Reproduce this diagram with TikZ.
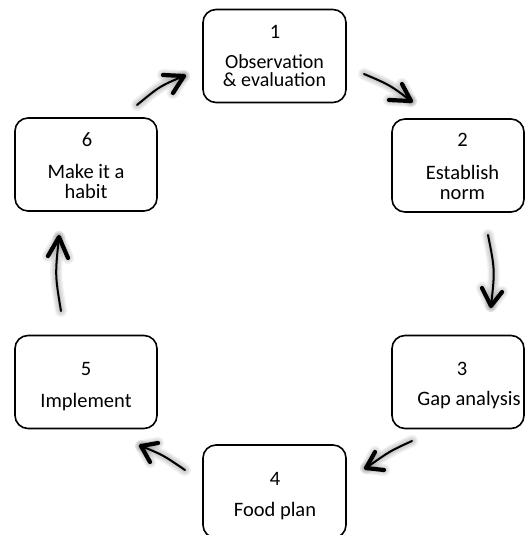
\documentclass[tikz,border=0pt]{standalone}
\usepackage{fontspec}
\setmainfont{Carlito}
\tikzset{
  box/.style={draw=black, line width=1.6pt, rounded corners=13pt, fill=white},
  lbl/.style={inner sep=0pt, font=\fontsize{20.5}{20}\selectfont, anchor=base, align=center},
  shaft/.style={draw=black, line width=2pt, line cap=round},
  ahead/.style={draw=black, line width=4.2pt, line cap=round, line join=round},
  shd/.style={draw=black, line cap=round, line join=round, opacity=0.06},
}
\newcommand\handarrow[5]{% tail, control, tip, barb1, barb2
  \foreach \w in {12,9,6,3}{
    \draw[shd, line width=\w pt, shift={(4,4)}] #1 .. controls #2 .. #3;
    \draw[shd, line width=\w pt, shift={(4,4)}] #4 -- #3 -- #5;
  }
  \draw[shaft] #1 .. controls #2 .. #3;
  \draw[ahead] #4 -- #3 -- #5;
}
\begin{document}
\begin{tikzpicture}[x=1pt, y=-1pt]
\useasboundingbox (0,0) rectangle (525,535);
\clip (0,0) rectangle (525,535);
\fill[white] (0,0) rectangle (525,535);

% boxes
\node[box, minimum width=143pt, minimum height=93pt] (b1) at (274.5,56) {};
\node[box, minimum width=132pt, minimum height=93pt] (b2) at (458,165.5) {};
\node[box, minimum width=132pt, minimum height=93pt] (b3) at (458,382) {};
\node[box, minimum width=143pt, minimum height=93pt] (b4) at (274.5,491.5) {};
\node[box, minimum width=142pt, minimum height=93pt] (b5) at (86,382) {};
\node[box, minimum width=142pt, minimum height=93pt] (b6) at (86,164.5) {};

% labels (baselines; multi-line nodes anchored at last line)
\node[lbl] (t1a) at (275,38) {1};
\node[lbl, font=\fontsize{20}{18}\selectfont] (t1b) at (274.5,86) {Observation\\\& evaluation};

\node[lbl] (t2a) at (462.5,146) {2};
\node[lbl] (t2b) at (462.5,199) {Establish\\norm};

\node[lbl] (t3a) at (462,375) {3};
\node[lbl] (t3b) at (469,405) {Gap analysis};

\node[lbl] (t4a) at (275,485) {4};
\node[lbl] (t4b) at (275,516) {Food plan};

\node[lbl] (t5a) at (86,375) {5};
\node[lbl] (t5b) at (86,407) {Implement};

\node[lbl] (t6a) at (87,146) {6};
\node[lbl] (t6b) at (86,198) {Make it a\\habit};

% arrows
\coordinate (a1t) at (364,74);  \coordinate (a1c) at (390,85);  \coordinate (a1h) at (411,101);
\coordinate (a1l) at (402,84);  \coordinate (a1r) at (389,100);
\handarrow{(a1t)}{(a1c)}{(a1h)}{(a1l)}{(a1r)}

\coordinate (a2t) at (488,235); \coordinate (a2c) at (495,270); \coordinate (a2h) at (491,306);
\coordinate (a2l) at (482,288); \coordinate (a2r) at (502,292);
\handarrow{(a2t)}{(a2c)}{(a2h)}{(a2l)}{(a2r)}

\coordinate (a3t) at (412,441); \coordinate (a3c) at (390,451); \coordinate (a3h) at (366,468);
\coordinate (a3l) at (375,452); \coordinate (a3r) at (384,470);
\handarrow{(a3t)}{(a3c)}{(a3h)}{(a3l)}{(a3r)}

\coordinate (a4t) at (185,470); \coordinate (a4c) at (163,455); \coordinate (a4h) at (141,446);
\coordinate (a4l) at (158,443); \coordinate (a4r) at (150,462);
\handarrow{(a4t)}{(a4c)}{(a4h)}{(a4l)}{(a4r)}

\coordinate (a5t) at (61,311);  \coordinate (a5c) at (55,275);  \coordinate (a5h) at (59,237);
\coordinate (a5l) at (48,256);  \coordinate (a5r) at (68,258);
\handarrow{(a5t)}{(a5c)}{(a5h)}{(a5l)}{(a5r)}

\coordinate (a6t) at (137,105); \coordinate (a6c) at (160,86);  \coordinate (a6h) at (184,76);
\coordinate (a6l) at (163,75);  \coordinate (a6r) at (173,93);
\handarrow{(a6t)}{(a6c)}{(a6h)}{(a6l)}{(a6r)}
\end{tikzpicture}
\end{document}
